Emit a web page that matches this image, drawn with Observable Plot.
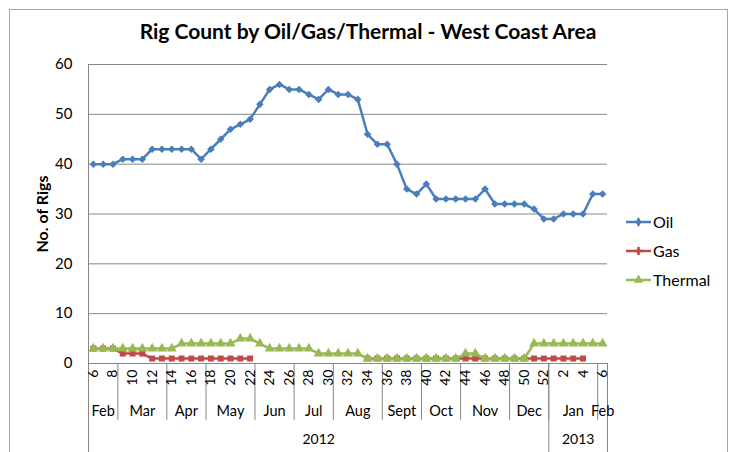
<!DOCTYPE html>
<html><head><meta charset="utf-8">
<script src="https://cdn.jsdelivr.net/npm/d3@7"></script>
<script src="https://cdn.jsdelivr.net/npm/@observablehq/plot@0.6"></script>
<style>
body{margin:0;background:#fff;font-family:Lato,"Open Sans",sans-serif;}
#wrap{position:relative;width:735px;height:452px;overflow:hidden;}
#border{position:absolute;left:9px;top:9px;width:717px;height:520px;border:1px solid #a6a6a6;pointer-events:none;}
#legend{position:absolute;left:625px;top:207px;font-size:16px;color:#000;font-family:Lato,sans-serif;}
.item{display:flex;align-items:center;height:29px;}
.item svg{display:block;margin-right:1px;}
</style></head><body>
<div id="wrap"><div id="chart"></div><div id="legend"></div><div id="border"></div></div>
<script>
// ---- data ----
const weeks = [6,7,8,9,10,11,12,13,14,15,16,17,18,19,20,21,22,23,24,25,26,27,28,29,30,31,32,33,34,35,36,37,38,39,40,41,42,43,44,45,46,47,48,49,50,51,52,1,2,3,4,5,6];
const oil = [40,40,40,41,41,41,43,43,43,43,43,41,43,45,47,48,49,52,55,56,55,55,54,53,55,54,54,53,46,44,44,40,35,34,36,33,33,33,33,33,35,32,32,32,32,31,29,29,30,30,30,34,34];
const gas = [3,3,3,2,2,2,1,1,1,1,1,1,1,1,1,1,1,null,null,null,null,null,null,null,null,null,null,null,1,1,1,1,1,1,1,1,1,1,1,1,1,1,1,1,1,1,1,1,1,1,1,null,null];
const thermal = [3,3,3,3,3,3,3,3,3,4,4,4,4,4,4,5,5,4,3,3,3,3,3,2,2,2,2,2,1,1,1,1,1,1,1,1,1,1,2,2,1,1,1,1,1,4,4,4,4,4,4,4,4];
const months = ["Feb","Mar","Apr","May","Jun","Jul","Aug","Sept","Oct","Nov","Dec","Jan","Feb"];
const monthWeeks = [3,5,4,5,4,4,5,4,4,5,4,5,1];
const years = ["2012","2013"];
const yearWeeks = [47,6];
const yTicks = [0,10,20,30,40,50,60];
const series = ["Oil","Gas","Thermal"];
const seriesValues = [oil, gas, thermal];
const colors = ["#4A7EBB","#BE4B48","#98B954"];
const symbols = ["diamond2","square","triangle"];
const title = "Rig Count by Oil/Gas/Thermal - West Coast Area";
const yLabel = "No. of Rigs";

// ---- derived tables ----
const rows = [];
series.forEach((s,k)=>seriesValues[k].forEach((v,i)=>rows.push({i, week:weeks[i], value:v, series:s})));
function groups(names, counts){let c=0;return names.map((n,j)=>{const s=c;c+=counts[j];return {name:n,start:s-0.5,end:c-0.5,mid:(s+c-1)/2};});}
const monthRows = groups(months, monthWeeks);
const yearRows = groups(years, yearWeeks);
const labelIdx = weeks.map((w,i)=>i).filter(i=>i%2===0);
const yBottom = -18, yMonth = -11.4;

const marks = [
  Plot.gridY(yTicks.filter(t=>t>0), {stroke:"#868686", strokeOpacity:1}),
  Plot.axisY(yTicks, {tickSize:0, tickPadding:16, fontSize:15, label:null}),
  Plot.ruleY([0], {stroke:"#868686"}),
  Plot.ruleX([-0.5], {y1:60, y2:yBottom, stroke:"#868686"}),
  Plot.ruleX(monthRows.slice(0,-1), {x:"end", y1:0, y2:yMonth, stroke:"#868686"}),
  Plot.ruleX(yearRows, {x:"end", y1:0, y2:yBottom, stroke:"#868686"}),
  Plot.text(labelIdx, {x:d=>d, text:d=>String(weeks[d]), frameAnchor:"bottom", dy:6, rotate:-90, textAnchor:"end", lineAnchor:"middle", fontSize:14}),
  Plot.text(monthRows, {x:"mid", text:"name", frameAnchor:"bottom", dy:48, lineAnchor:"middle", fontSize:14.5}),
  Plot.text(yearRows, {x:"mid", text:"name", frameAnchor:"bottom", dy:76, lineAnchor:"middle", fontSize:14}),
  Plot.text([yLabel], {text:d=>d, frameAnchor:"left", dx:-46, rotate:-90, textAnchor:"middle", lineAnchor:"middle", fontSize:16, fontWeight:"bold"}),
  Plot.text([title], {text:d=>d, frameAnchor:"top", dy:-32, dx:20, textAnchor:"middle", lineAnchor:"middle", fontSize:21, fontWeight:"bold"})
];
series.forEach((s,k)=>{
  const d = rows.filter(r=>r.series===s);
  marks.push(Plot.line(d, {x:"i", y:"value", stroke:colors[k], strokeWidth:2.5}));
  marks.push(Plot.dot(d.filter(r=>r.value!=null), {x:"i", y:"value", symbol:symbols[k], fill:colors[k], stroke:"none", r: k===2?3.7:3.4}));
});

const chart = Plot.plot({
  width:735, height:452,
  marginLeft:88, marginRight:128, marginTop:64, marginBottom:89,
  style:{fontFamily:"Lato, 'Open Sans', sans-serif", fontSize:"14px", color:"#000", background:"transparent"},
  x:{type:"linear", domain:[-0.5,52.5], axis:null},
  y:{domain:[0,60], axis:null},
  marks
});
document.getElementById("chart").appendChild(chart);

// legend
const leg = d3.select("#legend");
series.forEach((s,k)=>{
  const it = leg.append("div").attr("class","item");
  const svg = it.append("svg").attr("width",27).attr("height",12);
  svg.append("line").attr("x1",1).attr("x2",26).attr("y1",6).attr("y2",6).attr("stroke",colors[k]).attr("stroke-width",2.5);
  svg.append("path").attr("transform","translate(13.5,6)").attr("d", d3.symbol(d3.symbolsFill[[2,1,5][k]] , [k===0?30:k===1?36:40])()).attr("fill",colors[k]);
  it.append("span").text(s);
});
</script>
</body></html>
